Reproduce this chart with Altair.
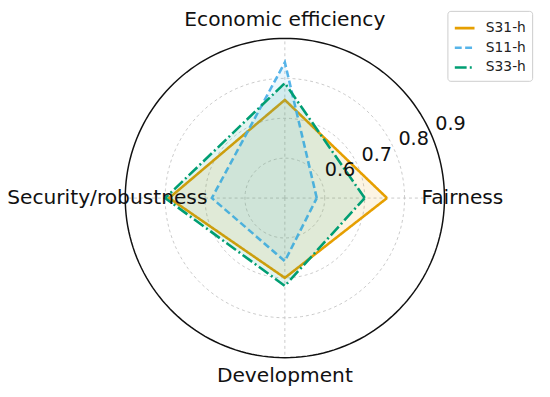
import altair as alt
import pandas as pd
import numpy as np

categories = ["Fairness", "Economic efficiency", "Security/robustness", "Development"]
angles = [0, 90, 180, 270]
series = ["S31-h", "S11-h", "S33-h"]
s31 = [0.756, 0.746, 0.790, 0.700]
s11 = [0.580, 0.840, 0.683, 0.658]
s33 = [0.700, 0.788, 0.800, 0.720]
ring_values = [0.6, 0.7, 0.8]
tick_labels = ["0.6", "0.7", "0.8", "0.9"]
tick_values = [0.6, 0.7, 0.8, 0.9]
colors = ["#E69F00", "#56B4E9", "#009E73"]
dashes = [[1, 0], [7, 3.5], [12, 3.2, 2, 3.2]]

R0 = 0.5  # radial axis origin

rows = []
for s, vals in zip(series, [s31, s11, s33]):
    for i, (c, a, v) in enumerate(zip(categories + [categories[0]], angles + [360], vals + [vals[0]])):
        rows.append({"series": s, "cat": c, "angle": a, "value": v, "order": i})
df = pd.DataFrame(rows)

ring_rows = []
for rv in ring_values + [0.9]:
    for d in range(0, 361, 2):
        ring_rows.append({"ring": rv, "deg": d})
rings = pd.DataFrame(ring_rows)

spokes = pd.DataFrame({"angle": angles, "value": [0.9] * 4})
labels = pd.DataFrame({"cat": categories, "angle": angles})
ticks = pd.DataFrame({"label": tick_labels, "value": tick_values})

W, H = 542, 389
PX = 405.0  # pixels per value unit
cx, cy = 281, 190
xs = alt.Scale(domain=[-cx / PX, (W - cx) / PX], nice=False, zero=False)
ys = alt.Scale(domain=[-(H - cy) / PX, cy / PX], nice=False, zero=False)

X = lambda f: alt.X(f, type="quantitative", scale=xs, axis=None)
Y = lambda f: alt.Y(f, type="quantitative", scale=ys, axis=None)

ring_base = alt.Chart(rings).transform_calculate(
    x=f"(datum.ring-{R0})*cos(datum.deg*PI/180)",
    y=f"(datum.ring-{R0})*sin(datum.deg*PI/180)",
)
grid_rings = ring_base.transform_filter("datum.ring < 0.85").mark_line(
    color="#c4c4c4", strokeWidth=0.9, strokeDash=[3, 3]
).encode(x=X("x"), y=Y("y"), detail="ring:N", order="deg:Q")

outer = ring_base.transform_filter("datum.ring > 0.85").mark_line(
    color="#111111", strokeWidth=1.5
).encode(x=X("x"), y=Y("y"), order="deg:Q")

spoke_lines = alt.Chart(spokes).transform_calculate(
    x2=f"(datum.value-{R0})*cos(datum.angle*PI/180)",
    y2=f"(datum.value-{R0})*sin(datum.angle*PI/180)",
    x0="0", y0="0",
).mark_rule(color="#c4c4c4", strokeWidth=0.9, strokeDash=[3, 3]).encode(
    x=X("x0"), y=Y("y0"), x2="x2:Q", y2="y2:Q"
)

leg = dict(title=None, orient="none", legendX=446, legendY=0,
           symbolType="stroke", symbolSize=400, symbolStrokeWidth=2.6,
           labelFontSize=14, labelFont="DejaVu Sans", labelColor="#222",
           padding=6, strokeColor="#cccccc", cornerRadius=3,
           fillColor="white", rowPadding=1, labelOffset=10)

polys = alt.Chart(df).transform_calculate(
    x=f"(datum.value-{R0})*cos(datum.angle*PI/180)",
    y=f"(datum.value-{R0})*sin(datum.angle*PI/180)",
).mark_line(strokeWidth=2.6, fillOpacity=0.11).encode(
    x=X("x"), y=Y("y"),
    order="order:Q",
    color=alt.Color("series:N", sort=series,
                    scale=alt.Scale(domain=series, range=colors),
                    legend=alt.Legend(**leg)),
    strokeDash=alt.StrokeDash("series:N", sort=series,
                              scale=alt.Scale(domain=series, range=dashes),
                              legend=alt.Legend(**leg)),
    fill=alt.Fill("series:N", scale=alt.Scale(domain=series, range=colors), legend=None),
)

cat_text = alt.Chart(labels).transform_calculate(
    x="0.445*cos(datum.angle*PI/180)",
    y="0.445*sin(datum.angle*PI/180)",
).mark_text(fontSize=20.5, font="DejaVu Sans", color="#111", align="center", baseline="middle").encode(
    x=X("x"), y=Y("y"), text="cat:N"
)

tick_text = alt.Chart(ticks).transform_calculate(
    x=f"(datum.value-{R0})*cos(22.5*PI/180)",
    y=f"(datum.value-{R0})*sin(22.5*PI/180)",
).mark_text(fontSize=19.5, font="DejaVu Sans", color="#111", align="left", baseline="bottom", dx=3, dy=-3).encode(
    x=X("x"), y=Y("y"), text="label:N"
)

chart = alt.layer(grid_rings, spoke_lines, polys, outer, cat_text, tick_text).properties(
    width=W, height=H, autosize=alt.AutoSizeParams(type="none"), padding=0
).configure_view(stroke=None)

chart.save("out.html", embed_options={"renderer": "svg", "actions": False})
